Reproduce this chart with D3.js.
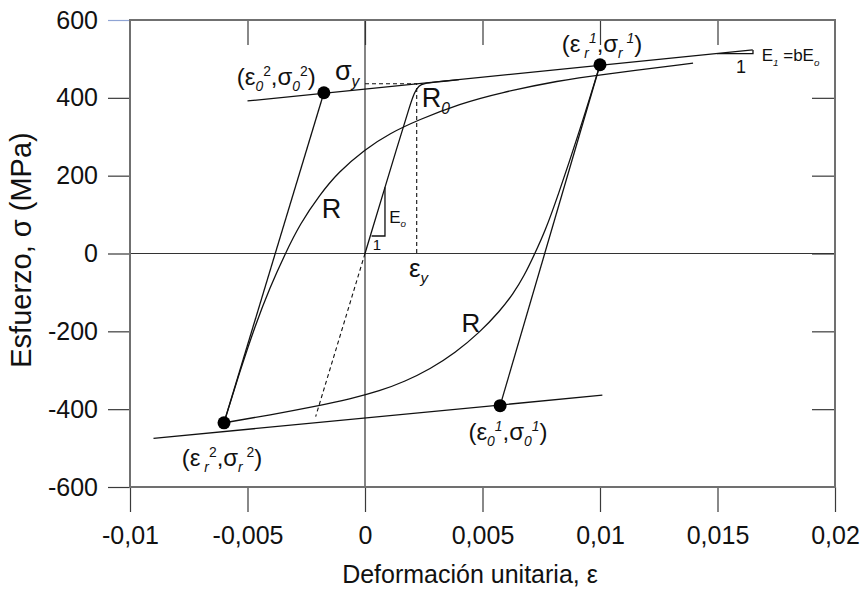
<!DOCTYPE html>
<html>
<head>
<meta charset="utf-8">
<script src="https://cdn.jsdelivr.net/npm/d3@7"></script>
<style>
  body { margin: 0; background: #fff; }
  text { font-family: "Liberation Sans", Arial, sans-serif; }
</style>
</head>
<body>
<div id="chart"></div>
<script>
// tick values and labels
var xTicks = [-0.01, -0.005, 0, 0.005, 0.01, 0.015, 0.02];
var xTickLabels = ["-0,01", "-0,005", "0", "0,005", "0,01", "0,015", "0,02"];
var yTicks = [-600, -400, -200, 0, 200, 400, 600];

// asymptotes (strain, stress in MPa)
var upperAsym = [[-0.005, 392], [0.0165, 523]];
var lowerAsym = [[-0.009, -475], [0.0101, -364]];

// initial loading curve R0
var r0Curve = [[0, 0], [0.0015, 300], [0.0019, 378], [0.0021, 414], [0.0023, 432], [0.0025, 437], [0.003, 440.5], [0.004, 446.6]];

// unloading branch from (er1, sr1) to (er2, sr2)
var unloadCurve = [[0.0100, 485], [0.00915, 318], [0.00817, 141], [0.00766, 57], [0.00723, 0], [0.00677, -58],
  [0.0063, -104], [0.00574, -148], [0.00489, -202], [0.00383, -256], [0.00277, -297], [0.0017, -329],
  [0.00064, -353], [-0.00064, -374], [-0.00204, -392], [-0.00404, -415], [-0.006, -435]];

// reloading branch from (er2, sr2)
var reloadCurve = [[-0.006, -435], [-0.00532, -302], [-0.00468, -186], [-0.00404, -86], [-0.0034, -1],
  [-0.00277, 76], [-0.00191, 152], [-0.00115, 208], [0, 268], [0.00106, 309], [0.00226, 343],
  [0.00404, 385], [0.00574, 413], [0.0083, 445], [0.01, 459], [0.01396, 489]];

// elastic lines to the asymptote intersections
var elastic1 = [[0.0100, 485], [0.00575, -391]];
var elastic2 = [[-0.006, -435], [-0.00175, 413]];
var elasticDashed = [[0, 0], [-0.0021, -419]];

// yield point
var epsY = 0.0022, sigY = 436;

// marked points
var points = [[0.0100, 485], [0.00575, -391], [-0.006, -435], [-0.00175, 413]];

// slope triangles
var triE0 = [[0.00028, 45], [0.00085, 45], [0.00085, 170]];
var triE1 = [[0.01498, 513.7], [0.01651, 513.7], [0.01651, 523]];

var width = 868, height = 599;
var margin = {top: 20, right: 33, bottom: 112, left: 130};

var x = d3.scaleLinear().domain([-0.01, 0.02]).range([margin.left, width - margin.right]);
var y = d3.scaleLinear().domain([-600, 600]).range([height - margin.bottom, margin.top]);

var svg = d3.select("#chart").append("svg")
  .attr("width", width)
  .attr("height", height);

var line = d3.line().x(function(d) { return x(d[0]); }).y(function(d) { return y(d[1]); });
var smooth = d3.line().x(function(d) { return x(d[0]); }).y(function(d) { return y(d[1]); })
  .curve(d3.curveBasis);

// axes
var gLeft = svg.append("g")
  .attr("transform", "translate(" + margin.left + ",0)")
  .call(d3.axisLeft(y).tickValues(yTicks).tickSize(22).tickPadding(10).tickFormat(function(d) { return d; }));
var gBottom = svg.append("g")
  .attr("transform", "translate(0," + (height - margin.bottom) + ")")
  .call(d3.axisBottom(x).tickValues(xTicks).tickSize(25).tickPadding(14)
    .tickFormat(function(d, i) { return xTickLabels[i]; }));
var gTop = svg.append("g")
  .attr("transform", "translate(0," + margin.top + ")")
  .call(d3.axisTop(x).tickValues(xTicks.slice(1, -1)).tickSize(-25).tickFormat(""));
var gRight = svg.append("g")
  .attr("transform", "translate(" + (width - margin.right) + ",0)")
  .call(d3.axisRight(y).tickValues(yTicks.slice(1, -1)).tickSize(-23).tickFormat(""));

[gLeft, gBottom, gTop, gRight].forEach(function(g) {
  g.select(".domain").remove();
  g.selectAll(".tick line").attr("stroke", "#3a3a3a").attr("stroke-width", 1.2);
  g.selectAll(".tick text").attr("fill", "#111").attr("font-size", 25)
    .attr("font-family", "'Liberation Sans', Arial, sans-serif");
});
gLeft.selectAll(".tick").filter(function(d) { return d === 600; })
  .select("line").attr("stroke", "#8fa4d4");

// zero lines
svg.append("line")
  .attr("x1", x(-0.01)).attr("x2", x(0.02)).attr("y1", y(0)).attr("y2", y(0))
  .attr("stroke", "#333").attr("stroke-width", 1.2);
svg.append("line")
  .attr("x1", x(0)).attr("x2", x(0)).attr("y1", y(600)).attr("y2", y(-600))
  .attr("stroke", "#333").attr("stroke-width", 1.2);

// frame
svg.append("rect")
  .attr("x", x(-0.01)).attr("y", y(600))
  .attr("width", x(0.02) - x(-0.01)).attr("height", y(-600) - y(600))
  .attr("fill", "none").attr("stroke", "#707070").attr("stroke-width", 2);

// dashed guides
svg.append("path").attr("d", line([[0, sigY], [epsY, sigY], [epsY, 0]]))
  .attr("fill", "none").attr("stroke", "#111").attr("stroke-width", 1.1).attr("stroke-dasharray", "4,3");
svg.append("path").attr("d", line(elasticDashed))
  .attr("fill", "none").attr("stroke", "#111").attr("stroke-width", 1.1).attr("stroke-dasharray", "4,3");

// straight lines
[upperAsym, lowerAsym, elastic1, elastic2, triE0, triE1].forEach(function(p) {
  svg.append("path").attr("d", line(p))
    .attr("fill", "none").attr("stroke", "#111").attr("stroke-width", 1.3);
});

// curves
[r0Curve, unloadCurve, reloadCurve].forEach(function(p) {
  svg.append("path").attr("d", smooth(p))
    .attr("fill", "none").attr("stroke", "#111").attr("stroke-width", 1.3);
});

// points
svg.selectAll(".pt").data(points).enter().append("circle")
  .attr("class", "pt")
  .attr("cx", function(d) { return x(d[0]); })
  .attr("cy", function(d) { return y(d[1]); })
  .attr("r", 6.5).attr("fill", "#000");

// annotation helper: parts = [text, kind, italic] where kind is "", "sub", "sup"
function label(e, s, size, parts) {
  var t = svg.append("text").attr("x", x(e)).attr("y", y(s)).attr("font-size", size).attr("fill", "#111");
  var shift = 0;
  parts.forEach(function(p) {
    var target = p[1] === "sub" ? size * 0.25 : (p[1] === "sup" ? -size * 0.38 : 0);
    var ts = t.append("tspan").text(p[0]).attr("dy", target - shift);
    shift = target;
    if (p[1]) ts.attr("font-size", size * 0.58);
    if (p[2]) ts.attr("font-style", "italic");
  });
  return t;
}

label(-0.00546, 433, 24, [["(ε", ""], ["0", "sub", 1], ["2", "sup"], [",σ", ""], ["0", "sub", 1], ["2", "sup"], [")", ""]]);
label(0.00837, 518, 24, [["(ε", ""], [" r", "sub", 1], ["1", "sup", 1], [",σ", ""], ["r", "sub", 1], [" 1", "sup", 1], [")", ""]]);
label(0.0044, -479, 24, [["(ε", ""], ["0", "sub", 1], ["1", "sup", 1], [",σ", ""], ["0", "sub", 1], ["1", "sup", 1], [")", ""]]);
label(-0.0078, -546, 24, [["(ε", ""], [" r", "sub", 1], ["2", "sup"], [",σ", ""], ["r", "sub", 1], [" 2", "sup"], [")", ""]]);
label(-0.00128, 446, 27, [["σ", ""], ["y", "sub", 1]]);
label(0.00241, 377, 27, [["R", ""], ["0", "sub", 1]]);
label(-0.00184, 90, 27, [["R", ""]]);
label(0.00411, -201, 26, [["R", ""]]);
label(0.00187, -60, 26, [["ε", ""], ["y", "sub", 1]]);
label(0.00103, 79, 17, [["E", ""], ["o", "sub", 1]]);
label(0.00033, 9, 15, [["1", ""]]);
label(0.01579, 464, 18, [["1", ""]]);
label(0.01688, 494, 17, [["E", ""], ["1", "sub", 1], [" =bE", ""], ["o", "sub", 1]]);

// axis titles
svg.append("text")
  .attr("x", 470).attr("y", 583)
  .attr("text-anchor", "middle").attr("font-size", 25).attr("fill", "#111")
  .text("Deformación unitaria, ε");
svg.append("text")
  .attr("transform", "translate(31,250) rotate(-90)")
  .attr("text-anchor", "middle").attr("font-size", 29).attr("fill", "#111")
  .text("Esfuerzo, σ (MPa)");
</script>
</body>
</html>
